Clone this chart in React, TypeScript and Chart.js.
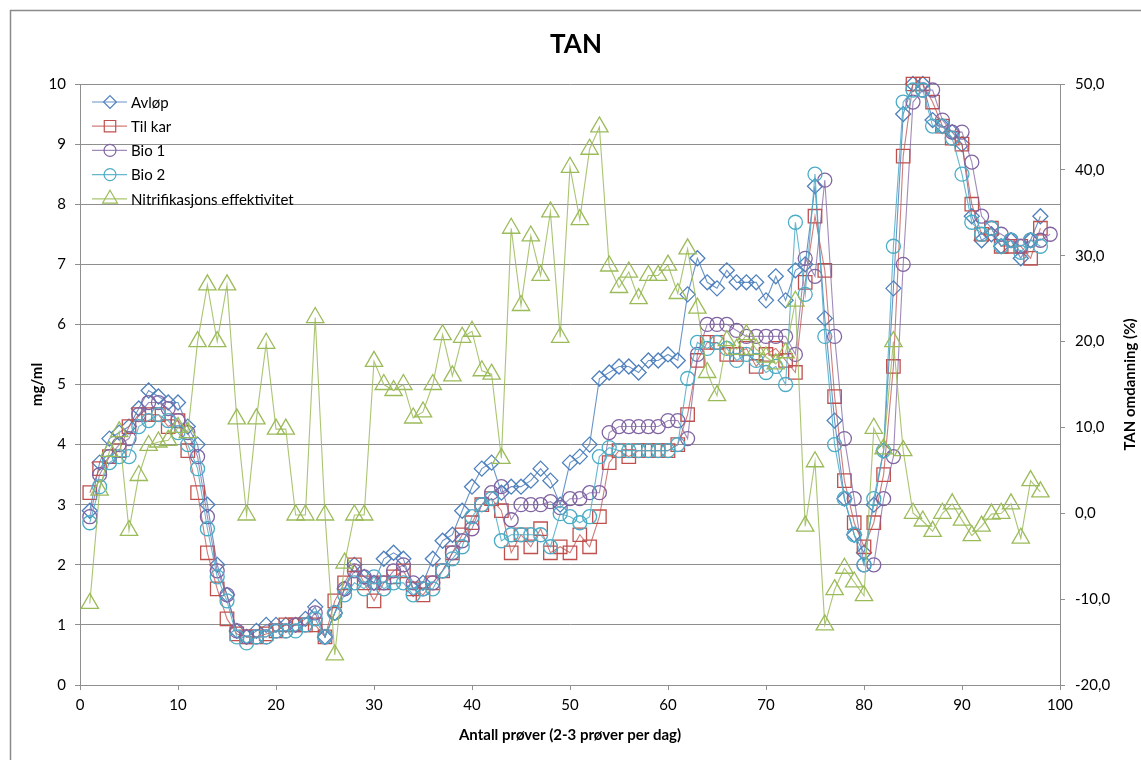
import React, { useEffect, useRef } from 'react';
import { Chart, registerables } from 'chart.js';

Chart.register(...registerables);

// ---------- data ----------
const seriesNames = ['Avløp', 'Til kar', 'Bio 1', 'Bio 2', 'Nitrifikasjons effektivitet'];

const avlop = [
  2.9, 3.7, 4.1, 4.2, 4.3, 4.6, 4.9, 4.8, 4.7, 4.7,
  4.3, 4.0, 3.0, 2.0, 1.5, 0.9, 0.8, 0.9, 1.0, 1.0,
  1.0, 1.0, 1.1, 1.3, 0.8, 1.2, 1.6, 2.0, 1.8, 1.7,
  2.1, 2.2, 2.1, 1.6, 1.7, 2.1, 2.4, 2.5, 2.9, 3.3,
  3.6, 3.7, 3.2, 3.3, 3.3, 3.4, 3.6, 3.4, 3.0, 3.7,
  3.8, 4.0, 5.1, 5.2, 5.3, 5.3, 5.2, 5.4, 5.4, 5.5,
  5.4, 6.5, 7.1, 6.7, 6.6, 6.9, 6.7, 6.7, 6.7, 6.4,
  6.8, 6.4, 6.9, 7.0, 8.3, 6.1, 4.4, 3.1, 2.5, 2.2,
  3.0, 3.9, 6.6, 9.5, 10.0, 10.0, 9.4, 9.3, 9.2, 9.0,
  7.8, 7.4, 7.5, 7.3, 7.4, 7.1, 7.4, 7.8,
];

const tilKar = [
  3.2, 3.6, 3.8, 3.9, 4.3, 4.5, 4.5, 4.5, 4.3, 4.4,
  3.9, 3.2, 2.2, 1.6, 1.1, 0.85, 0.8, 0.8, 0.85, 0.9,
  1.0, 1.0, 1.0, 1.0, 0.8, 1.4, 1.7, 2.0, 1.7, 1.4,
  1.7, 1.8, 1.9, 1.6, 1.5, 1.7, 1.9, 2.2, 2.5, 2.7,
  3.0, 3.1, 2.9, 2.2, 2.5, 2.3, 2.6, 2.2, 2.3, 2.2,
  2.5, 2.3, 2.8, 3.7, 3.9, 3.8, 3.9, 3.9, 3.9, 3.9,
  4.0, 4.5, 5.4, 5.7, 5.7, 5.5, 5.5, 5.6, 5.3, 5.5,
  5.6, 5.4, 5.2, 6.7, 7.8, 6.9, 4.8, 3.4, 2.7, 2.3,
  2.7, 3.5, 5.3, 8.8, 10.0, 10.0, 9.7, 9.3, 9.1, 9.0,
  8.0, 7.5, 7.6, 7.3, 7.3, 7.3, 7.1, 7.6,
];

const bio1 = [
  2.8, 3.5, 3.8, 4.0, 4.1, 4.5, 4.7, 4.7, 4.6, 4.4,
  4.2, 3.8, 2.8, 1.9, 1.5, 0.9, 0.8, 0.8, 0.8, 0.9,
  0.9, 1.0, 1.0, 1.2, 0.8, 1.2, 1.6, 1.9, 1.8, 1.7,
  1.7, 1.9, 2.0, 1.7, 1.6, 1.7, 1.9, 2.2, 2.4, 2.6,
  3.0, 3.2, 3.3, 2.75, 3.0, 3.0, 3.0, 3.05, 2.95, 3.1,
  3.1, 3.2, 3.2, 4.2, 4.3, 4.3, 4.3, 4.3, 4.3, 4.4,
  4.4, 4.1, 5.5, 6.0, 6.0, 6.0, 5.9, 5.8, 5.8, 5.8,
  5.8, 5.8, 5.5, 7.1, 6.8, 8.4, 5.8, 4.1, 3.1, 2.0,
  2.0, 3.1, 3.8, 7.0, 9.7, 9.9, 9.9, 9.4, 9.2, 9.2,
  8.7, 7.8, 7.6, 7.5, 7.4, 7.3, 7.4, 7.4, 7.5,
];

const bio2 = [
  2.7, 3.3, 3.7, 3.8, 3.8, 4.3, 4.4, 4.5, 4.4, 4.2,
  4.0, 3.6, 2.6, 1.8, 1.4, 0.8, 0.7, 0.8, 0.8, 0.9,
  0.9, 0.9, 1.0, 1.1, 0.8, 1.2, 1.5, 1.7, 1.6, 1.8,
  1.6, 1.7, 1.7, 1.5, 1.6, 1.6, 1.9, 2.1, 2.3, 2.8,
  3.0, 3.1, 2.4, 2.5, 2.5, 2.5, 2.5, 2.3, 2.85, 2.8,
  2.7, 2.8, 3.8, 3.95, 3.9, 3.9, 3.9, 3.9, 3.9, 3.9,
  4.0, 5.1, 5.7, 5.6, 5.7, 5.6, 5.4, 5.5, 5.4, 5.2,
  5.3, 5.0, 7.7, 6.5, 8.5, 5.8, 4.0, 3.1, 2.5, 2.0,
  3.1, 3.9, 7.3, 9.7, 9.9, 9.9, 9.3, 9.3, 9.1, 8.5,
  7.7, 7.5, 7.6, 7.3, 7.4, 7.2, 7.4, 7.3,
];

const nitrifikasjon = [
  -10.5, 2.7, 7.2, 9.5, -2.0, 4.4, 7.9, 8.3, 8.5, 10.0,
  9.4, 20.0, 26.6, 20.0, 26.6, 11.0, -0.2, 11.0, 19.8, 9.8,
  9.8, -0.2, -0.2, 22.8, -0.2, -16.5, -5.8, -0.2, -0.2, 17.7,
  15.0, 14.3, 15.0, 11.1, 11.8, 15.0, 20.8, 16.0, 20.5, 21.2,
  16.6, 16.2, 6.4, 33.2, 24.2, 32.3, 27.7, 35.1, 20.5, 40.3,
  34.2, 42.4, 45.0, 28.8, 26.3, 28.1, 25.0, 27.7, 27.7, 28.9,
  25.6, 30.8, 23.9, 16.4, 13.7, 20.1, 19.1, 20.8, 19.1, 18.2,
  17.4, 18.7, 24.7, -1.5, 6.0, -13.0, -8.9, -6.4, -8.0, -9.6,
  9.9, 7.5, 20.0, 7.3, 0.0, -0.9, -2.1, 0.0, 1.1, -0.8,
  -2.6, -1.5, -0.1, 0.0, 1.1, -2.9, 3.8, 2.5,
];

const xTicks = { min: 0, max: 100, step: 10 };
const leftTicks = { min: 0, max: 10, step: 1 };
const rightTicks = { min: -20, max: 50, step: 10 };

const titleText = 'TAN';
const xTitle = 'Antall prøver (2-3 prøver per dag)';
const yTitle = 'mg/ml';
const y2Title = 'TAN omdanning (%)';

// ---------- styles ----------
const colors = ['#4F81BD', '#C0504D', '#8064A2', '#4BACC6', '#9BBB59'];
const lineColors = [
  'rgba(79,129,189,0.85)',
  'rgba(192,80,77,0.75)',
  'rgba(128,100,162,0.75)',
  'rgba(75,172,198,0.85)',
  'rgba(155,187,89,0.85)',
];
const pointStyles: any[] = ['rectRot', 'rect', 'circle', 'circle', 'triangle'];
const pointRadii = [7.5, 9.5, 7, 7, 10];
const FONT = "Lato, 'Open Sans', 'DejaVu Sans', sans-serif";
const GRID = '#8f8f8f';

function toPoints(values: number[]) {
  return values.map((v, i) => ({ x: i + 1, y: v }));
}

function drawMarker(ctx: CanvasRenderingContext2D, style: string, x: number, y: number, r: number) {
  ctx.beginPath();
  if (style === 'rectRot') {
    ctx.moveTo(x, y - r);
    ctx.lineTo(x + r, y);
    ctx.lineTo(x, y + r);
    ctx.lineTo(x - r, y);
    ctx.closePath();
  } else if (style === 'rect') {
    const s = r * Math.SQRT1_2;
    ctx.rect(x - s, y - s, 2 * s, 2 * s);
  } else if (style === 'circle') {
    ctx.arc(x, y, r, 0, Math.PI * 2);
  } else if (style === 'triangle') {
    ctx.moveTo(x, y - r);
    ctx.lineTo(x + Math.cos(Math.PI / 6) * r, y + r / 2);
    ctx.lineTo(x - Math.cos(Math.PI / 6) * r, y + r / 2);
    ctx.closePath();
  }
  ctx.stroke();
}

const decorPlugin = {
  id: 'decor',
  beforeDraw(chart: any) {
    const ctx = chart.ctx as CanvasRenderingContext2D;
    ctx.save();
    ctx.strokeStyle = '#8a8a8a';
    ctx.lineWidth = 1.5;
    ctx.beginPath();
    ctx.moveTo(10.5, chart.height + 5);
    ctx.lineTo(10.5, 10.5);
    ctx.lineTo(chart.width + 5, 10.5);
    ctx.stroke();
    ctx.restore();
  },
  afterDraw(chart: any) {
    const ctx = chart.ctx as CanvasRenderingContext2D;
    const area = chart.chartArea;
    ctx.save();
    ctx.fillStyle = '#000';
    ctx.textAlign = 'center';
    ctx.textBaseline = 'middle';
    ctx.font = `bold 26px ${FONT}`;
    ctx.fillText(titleText, 576, 45);
    ctx.font = `bold 15px ${FONT}`;
    ctx.fillText(xTitle, (area.left + area.right) / 2, 735);
    const midY = (area.top + area.bottom) / 2;
    ctx.save();
    ctx.translate(37, midY);
    ctx.rotate(-Math.PI / 2);
    ctx.fillText(yTitle, 0, 0);
    ctx.restore();
    ctx.save();
    ctx.translate(1130, midY);
    ctx.rotate(-Math.PI / 2);
    ctx.fillText(y2Title, 0, 0);
    ctx.restore();

    ctx.textAlign = 'left';
    ctx.font = `15px ${FONT}`;
    seriesNames.forEach((name, i) => {
      const y = 102 + i * 24.2;
      ctx.strokeStyle = lineColors[i];
      ctx.lineWidth = 1.2;
      ctx.beginPath();
      ctx.moveTo(92, y);
      ctx.lineTo(127, y);
      ctx.stroke();
      ctx.strokeStyle = colors[i];
      ctx.lineWidth = 1.2;
      drawMarker(ctx, pointStyles[i], 110, y, pointRadii[i] * 0.85);
      ctx.fillStyle = '#000';
      ctx.fillText(name, 131, y + 1);
    });
    ctx.restore();
  },
};

export default function App() {
  const canvasRef = useRef<HTMLCanvasElement | null>(null);

  useEffect(() => {
    if (!canvasRef.current) return;
    Chart.defaults.font.family = FONT;
    const all = [avlop, tilKar, bio1, bio2, nitrifikasjon];
    const orders = [4, 3, 2, 1, 0];
    const datasets = all.map((vals, i) => ({
      label: seriesNames[i],
      data: toPoints(vals),
      yAxisID: i === 4 ? 'y2' : 'y',
      borderColor: lineColors[i],
      borderWidth: 1.1,
      pointStyle: pointStyles[i],
      pointRadius: pointRadii[i],
      pointBorderColor: colors[i],
      pointBorderWidth: 1.3,
      pointBackgroundColor: 'rgba(255,255,255,0)',
      pointHoverRadius: pointRadii[i],
      fill: false,
      tension: 0,
      clip: false as any,
      order: orders[i],
    }));

    const chart = new Chart(canvasRef.current, {
      type: 'line',
      data: { datasets },
      options: {
        responsive: false,
        animation: false,
        events: [],
        layout: { padding: { top: 84, left: 0, right: 0, bottom: 0 } },
        plugins: {
          legend: { display: false },
          title: { display: false },
          tooltip: { enabled: false },
        },
        scales: {
          x: {
            type: 'linear',
            min: xTicks.min,
            max: xTicks.max,
            afterFit: (s: any) => { s.height = 75; },
            ticks: { stepSize: xTicks.step, color: '#000', font: { size: 15, family: FONT }, padding: 6, maxRotation: 0 },
            grid: { drawOnChartArea: false, drawTicks: true, tickLength: 5, color: GRID },
            border: { color: GRID, width: 1 },
          },
          y: {
            type: 'linear',
            position: 'left',
            min: leftTicks.min,
            max: leftTicks.max,
            afterFit: (s: any) => { s.width = 80; },
            ticks: { stepSize: leftTicks.step, color: '#000', font: { size: 15, family: FONT }, padding: 9 },
            grid: { color: GRID, lineWidth: 1, tickLength: 5 },
            border: { color: GRID, width: 1 },
          },
          y2: {
            type: 'linear',
            position: 'right',
            min: rightTicks.min,
            max: rightTicks.max,
            afterFit: (s: any) => { s.width = 81; },
            ticks: {
              stepSize: rightTicks.step,
              color: '#000',
              font: { size: 15, family: FONT },
              padding: 10,
              callback: (v: any) => Number(v).toFixed(1).replace('.', ','),
            },
            grid: { drawOnChartArea: false, tickLength: 5, color: GRID },
            border: { color: GRID, width: 1 },
          },
        },
      } as any,
      plugins: [decorPlugin],
    });
    return () => chart.destroy();
  }, []);

  return (
    <div style={{ position: 'fixed', left: 0, top: 0, width: 1141, height: 760, background: '#fff' }}>
      <canvas ref={canvasRef} width={1141} height={760} style={{ display: 'block' }} />
    </div>
  );
}
